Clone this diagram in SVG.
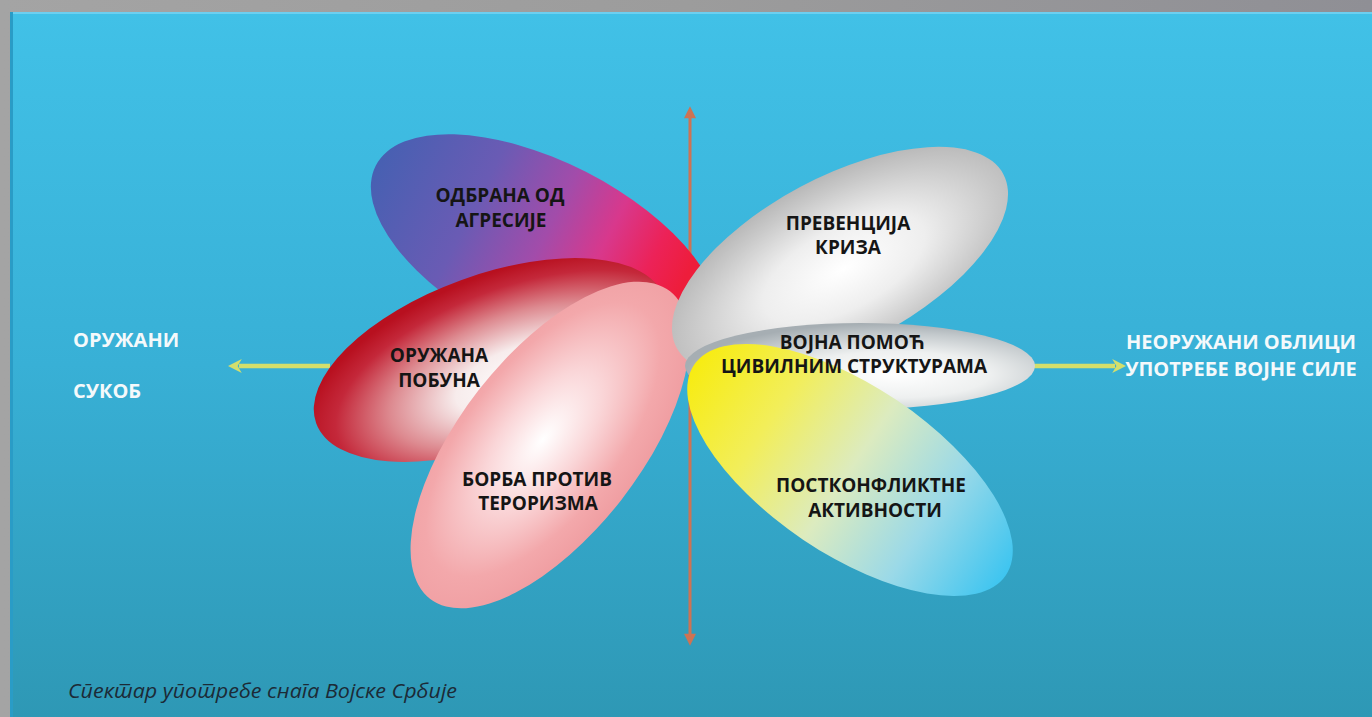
<svg xmlns="http://www.w3.org/2000/svg" width="1372" height="717" viewBox="0 0 1372 717">
<style>
.nlab{font-family:"Open Sans","Noto Sans","Liberation Sans",sans-serif;font-weight:700;font-size:19px;fill:#151515;text-anchor:middle}
.side{font-family:"Open Sans","Noto Sans","Liberation Sans",sans-serif;font-weight:700;font-size:20px;fill:#f4f9fb}
.cap{font-family:"Open Sans","Noto Sans","Liberation Sans",sans-serif;font-style:italic;font-size:20px;fill:#1c2a36}
.axis{stroke:#cd7354;stroke-width:3;fill:none}
.yarr{stroke:#d3df6c;stroke-width:4.5;fill:none}
</style>
<defs>
<linearGradient id="bg" x1="0" y1="0" x2="0" y2="1">
<stop offset="0" stop-color="#41c1e7"/>
<stop offset="0.5" stop-color="#38b0d6"/>
<stop offset="1" stop-color="#2e98b5"/>
</linearGradient>
<linearGradient id="frame" x1="0" y1="0" x2="1" y2="0">
<stop offset="0" stop-color="#a4a4a4"/>
<stop offset="0.5" stop-color="#9c9c9c"/>
<stop offset="1" stop-color="#8f8f95"/>
</linearGradient>
<linearGradient id="gBlue" x1="0" y1="0" x2="1" y2="0">
<stop offset="0" stop-color="#4760b2"/>
<stop offset="0.28" stop-color="#6a5bb4"/>
<stop offset="0.48" stop-color="#a24caa"/>
<stop offset="0.63" stop-color="#d8388c"/>
<stop offset="0.76" stop-color="#ec2258"/>
<stop offset="0.86" stop-color="#ee1d3b"/>
<stop offset="1" stop-color="#ee1d3b"/>
</linearGradient>
<radialGradient id="gRed" cx="0.55" cy="0.62" r="0.6" fx="0.56" fy="0.68">
<stop offset="0" stop-color="#ffffff"/>
<stop offset="0.3" stop-color="#f7ecec"/>
<stop offset="0.6" stop-color="#dd8a90"/>
<stop offset="0.85" stop-color="#c4283a"/>
<stop offset="1" stop-color="#b8101f"/>
</radialGradient>
<radialGradient id="gPink" cx="0.5" cy="0.45" r="0.6">
<stop offset="0" stop-color="#ffffff"/>
<stop offset="0.35" stop-color="#fad6d8"/>
<stop offset="0.7" stop-color="#f3a8ab"/>
<stop offset="1" stop-color="#ee9a9e"/>
</radialGradient>
<radialGradient id="gGrey" cx="0.5" cy="0.55" r="0.6">
<stop offset="0" stop-color="#ffffff"/>
<stop offset="0.4" stop-color="#eeeeee"/>
<stop offset="0.75" stop-color="#c9c9c9"/>
<stop offset="1" stop-color="#b0b0b0"/>
</radialGradient>
<radialGradient id="gSilver" cx="0.6" cy="0.6" r="0.6">
<stop offset="0" stop-color="#ffffff"/>
<stop offset="0.45" stop-color="#eef0f0"/>
<stop offset="0.8" stop-color="#c3c9cc"/>
<stop offset="1" stop-color="#a6aeb3"/>
</radialGradient>
<linearGradient id="gYellow" x1="0" y1="0" x2="1" y2="0">
<stop offset="0" stop-color="#f7ec12"/>
<stop offset="0.25" stop-color="#f2ee5a"/>
<stop offset="0.5" stop-color="#dcebbf"/>
<stop offset="0.75" stop-color="#9ad9e8"/>
<stop offset="1" stop-color="#3ec5f0"/>
</linearGradient>
<marker id="mAxis" viewBox="0 0 10 10" refX="1" refY="5" markerWidth="13" markerHeight="12" markerUnits="userSpaceOnUse" orient="auto-start-reverse">
<path d="M0,0 L10,5 L0,10 Z" fill="#cd7354"/>
</marker>
<marker id="mYel" viewBox="0 0 10 10" refX="2" refY="5" markerWidth="14" markerHeight="16" markerUnits="userSpaceOnUse" orient="auto">
<path d="M0,0 L10,5 L0,10 L3,5 Z" fill="#d3df6c"/>
</marker>
</defs>

<rect x="0" y="0" width="1372" height="717" fill="url(#frame)"/>
<rect x="10" y="12" width="1362" height="705" fill="url(#bg)"/>
<rect x="10" y="12" width="1362" height="2" fill="#6ccff0"/>
<rect x="10" y="12" width="3" height="705" fill="#2a9cc6"/>

<g id="connectors">
<line class="axis" x1="690" y1="117" x2="690" y2="635" marker-start="url(#mAxis)" marker-end="url(#mAxis)"/>
<line class="yarr" x1="330" y1="366" x2="239" y2="366" marker-end="url(#mYel)"/>
<line class="yarr" x1="1020" y1="366" x2="1115" y2="366" marker-end="url(#mYel)"/>
</g>

<g id="node-odbrana">
<ellipse cx="545" cy="252" rx="190" ry="90" transform="rotate(27 545 252)" fill="url(#gBlue)"/>
<text class="nlab" x="500" y="202">ОДБРАНА ОД</text>
<text class="nlab" x="501" y="227">АГРЕСИЈЕ</text>
</g>

<g id="node-oruzana-pobuna">
<ellipse cx="490" cy="360" rx="185" ry="85" transform="rotate(-20 490 360)" fill="url(#gRed)"/>
<text class="nlab" x="439" y="362">ОРУЖАНА</text>
<text class="nlab" x="439" y="387">ПОБУНА</text>
</g>

<g id="node-borba">
<ellipse cx="550" cy="445" rx="195" ry="90" transform="rotate(-52 550 445)" fill="url(#gPink)"/>
<text class="nlab" x="537" y="486">БОРБА ПРОТИВ</text>
<text class="nlab" x="538" y="510">ТЕРОРИЗМА</text>
</g>

<g id="node-prevencija">
<ellipse cx="840" cy="261" rx="185" ry="84" transform="rotate(-28 840 261)" fill="url(#gGrey)"/>
<text class="nlab" x="848" y="230">ПРЕВЕНЦИЈА</text>
<text class="nlab" x="848" y="254">КРИЗА</text>
</g>

<g id="node-vojna-pomoc">
<ellipse cx="860" cy="366" rx="175" ry="43" fill="url(#gSilver)"/>
</g>

<g id="node-postkonfliktne">
<ellipse cx="850" cy="470" rx="188" ry="84" transform="rotate(34 850 470)" fill="url(#gYellow)"/>
<text class="nlab" x="871" y="492">ПОСТКОНФЛИКТНЕ</text>
<text class="nlab" x="875" y="517">АКТИВНОСТИ</text>
</g>

<g id="node-vojna-pomoc-label">
<text class="nlab" x="852" y="349">ВОЈНА ПОМОЋ</text>
<text class="nlab" x="854" y="373">ЦИВИЛНИМ СТРУКТУРАМА</text>
</g>

<g id="label-left">
<text class="side" x="73" y="347">ОРУЖАНИ</text>
<text class="side" x="73" y="398">СУКОБ</text>
</g>

<g id="label-right">
<text class="side" x="1241" y="349" text-anchor="middle">НЕОРУЖАНИ ОБЛИЦИ</text>
<text class="side" x="1241" y="376" text-anchor="middle">УПОТРЕБЕ ВОЈНЕ СИЛЕ</text>
</g>

<g id="caption">
<text class="cap" x="68" y="698" xml:lang="sr" textLength="389" lengthAdjust="spacingAndGlyphs">Спектар употребе снага Војске Србије</text>
</g>
</svg>
